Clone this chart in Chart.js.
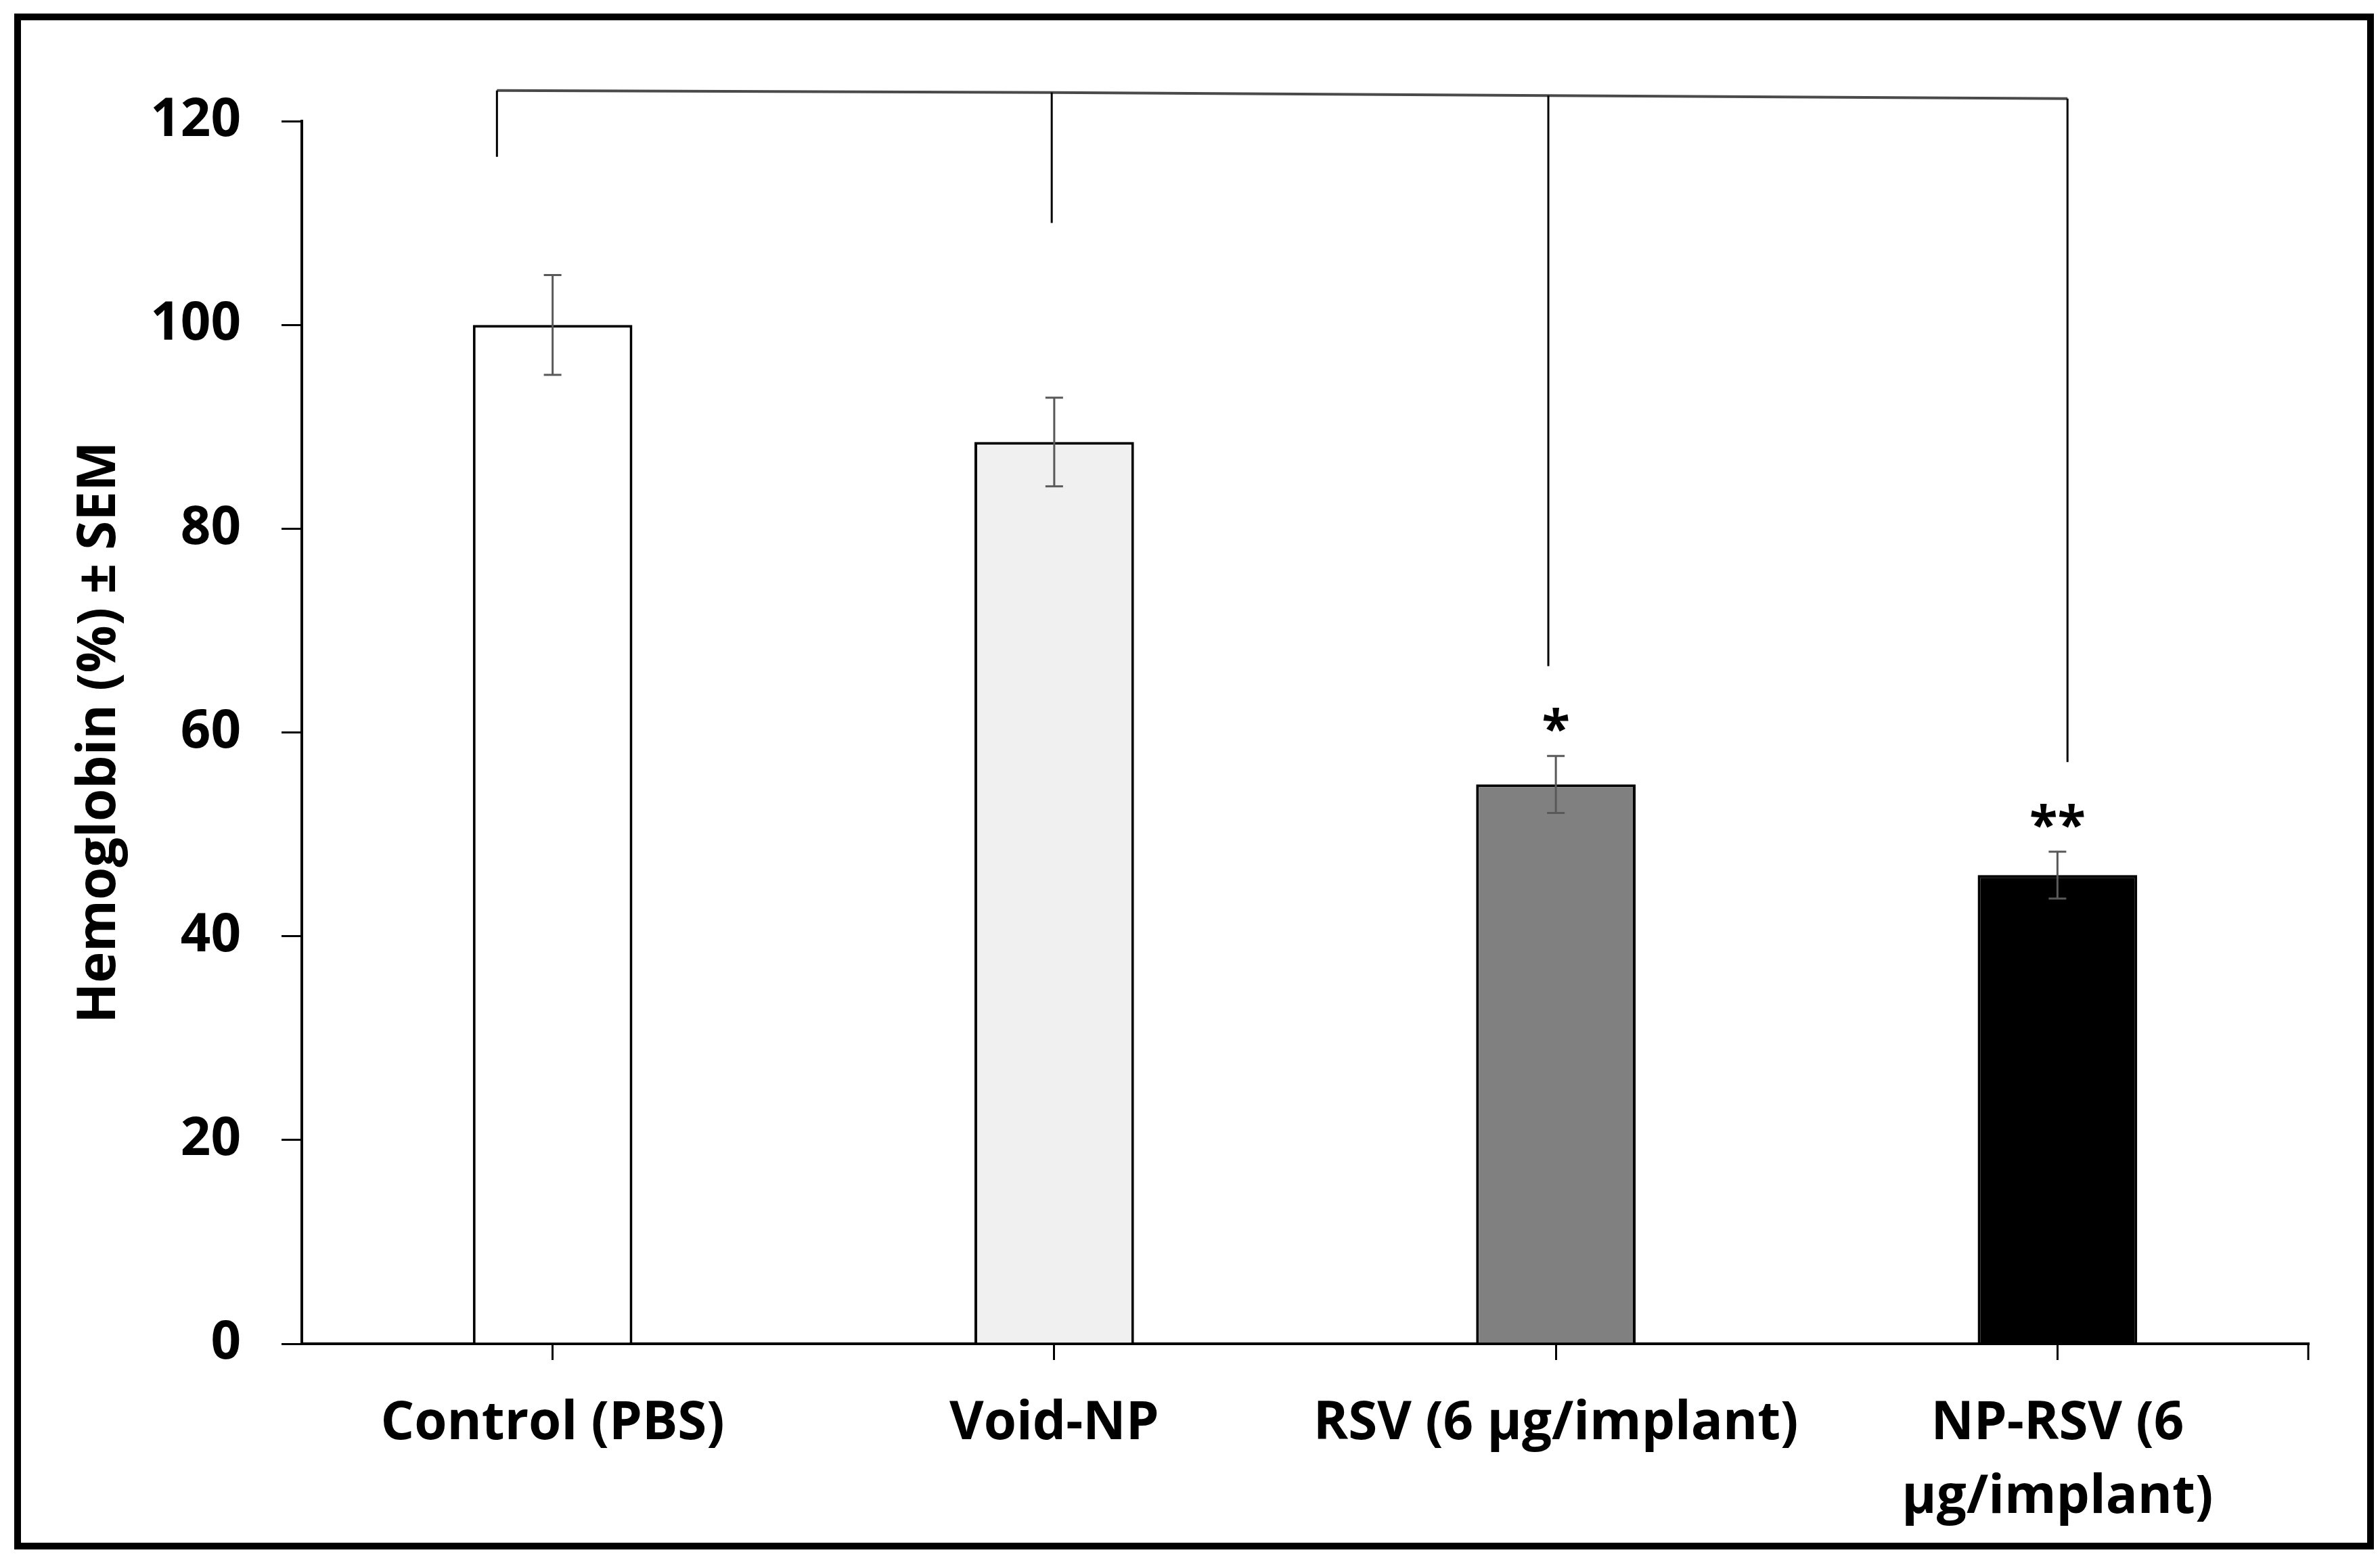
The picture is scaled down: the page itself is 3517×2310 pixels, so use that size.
<!DOCTYPE html>
<html lang="en">
<head>
<meta charset="UTF-8">
<title>Hemoglobin (%) ± SEM</title>
<script src="https://cdn.jsdelivr.net/npm/chart.js"></script>
<style>
    body {
        margin: 0;
        background: #fff;
    }
    .chart-container {
        position: relative;
        width: 3517px;
        height: 2310px;
    }
</style>
</head>
<body>
<div class="chart-container">
    <canvas id="hbChart"></canvas>
</div>
<script>
const categories = ['Control (PBS)', 'Void-NP', 'RSV (6 µg/implant)', ['NP-RSV (6', 'µg/implant)']];
const hemoglobin = [100, 88.5, 54.9, 46.0];
const sem = [4.9, 4.35, 2.8, 2.3];
const barColors = ['#ffffff', '#f0f0f0', '#808080', '#000000'];
const stars = ['', '', '*', '**'];
const yMin = 0, yMax = 120, yStep = 20;
// significance bracket: x position (category index), top and foot of each drop
const bracketX = [-0.111, 0.995, 1.985, 3.02];
const bracketTop = [123.0, 122.8, 122.5, 122.2];
const bracketFoot = [116.5, 110.0, 66.5, 57.1];

Chart.defaults.font.family = "'Open Sans', sans-serif";
Chart.defaults.color = '#000';

const extras = {
    id: 'extras',
    afterDatasetsDraw(chart) {
        const ctx = chart.ctx;
        const x = chart.scales.x, y = chart.scales.y;
        const bars = chart.getDatasetMeta(0).data;
        ctx.save();

        // error bars
        ctx.strokeStyle = '#595959';
        ctx.lineWidth = 3;
        bars.forEach((bar, i) => {
            const hi = y.getPixelForValue(hemoglobin[i] + sem[i]);
            const lo = y.getPixelForValue(hemoglobin[i] - sem[i]);
            ctx.beginPath();
            ctx.moveTo(bar.x, hi); ctx.lineTo(bar.x, lo);
            ctx.moveTo(bar.x - 13, hi); ctx.lineTo(bar.x + 13, hi);
            ctx.moveTo(bar.x - 13, lo); ctx.lineTo(bar.x + 13, lo);
            ctx.stroke();
        });

        // stars
        ctx.fillStyle = '#000';
        ctx.font = "bold 76px 'Open Sans', sans-serif";
        ctx.textAlign = 'center';
        ctx.textBaseline = 'alphabetic';
        bars.forEach((bar, i) => {
            if (!stars[i]) return;
            ctx.fillText(stars[i], bar.x, y.getPixelForValue(hemoglobin[i] + sem[i]) - 14);
        });

        // bracket
        ctx.strokeStyle = '#4a4a4a';
        ctx.lineWidth = 4;
        ctx.beginPath();
        bracketX.forEach((bx, i) => {
            const px = x.getPixelForValue(bx), py = y.getPixelForValue(bracketTop[i]);
            if (i === 0) ctx.moveTo(px, py); else ctx.lineTo(px, py);
        });
        ctx.stroke();
        ctx.strokeStyle = '#000';
        ctx.lineWidth = 3;
        ctx.beginPath();
        bracketX.forEach((bx, i) => {
            const px = x.getPixelForValue(bx);
            ctx.moveTo(px, y.getPixelForValue(bracketTop[i]));
            ctx.lineTo(px, y.getPixelForValue(bracketFoot[i]));
        });
        ctx.stroke();

        // end tick on the x axis
        const area = chart.chartArea;
        ctx.lineWidth = 3;
        ctx.beginPath();
        ctx.moveTo(area.right, area.bottom);
        ctx.lineTo(area.right, area.bottom + 24);
        ctx.stroke();
        ctx.restore();
    },
    afterDraw(chart) {
        const ctx = chart.ctx;
        ctx.save();
        ctx.strokeStyle = '#000';
        ctx.lineWidth = 10;
        ctx.strokeRect(26, 25, 3477, 2260);
        ctx.restore();
    }
};

const ctx = document.getElementById('hbChart').getContext('2d');
new Chart(ctx, {
    type: 'bar',
    data: {
        labels: categories,
        datasets: [{
            data: hemoglobin,
            backgroundColor: barColors,
            borderColor: '#000',
            borderWidth: 4,
            barPercentage: 0.318,
            categoryPercentage: 1
        }]
    },
    options: {
        responsive: true,
        maintainAspectRatio: false,
        devicePixelRatio: 1,
        animation: false,
        layout: {
            padding: { top: 179, right: 106, bottom: 0, left: 0 }
        },
        plugins: {
            legend: { display: false },
            tooltip: { enabled: false }
        },
        scales: {
            x: {
                offset: true,
                afterFit(scale) { scale.height = 324; },
                grid: {
                    offset: false,
                    drawOnChartArea: false,
                    drawTicks: true,
                    tickLength: 24,
                    color: '#000',
                    lineWidth: 3
                },
                border: { display: true, color: '#000', width: 4 },
                ticks: {
                    padding: 40,
                    maxRotation: 0,
                    autoSkip: false,
                    color: '#000',
                    font: { size: 78, weight: 'bold', lineHeight: 1.4 }
                }
            },
            y: {
                min: yMin,
                max: yMax,
                afterFit(scale) { scale.width = 446; },
                grid: {
                    drawOnChartArea: false,
                    drawTicks: true,
                    tickLength: 30,
                    color: '#000',
                    lineWidth: 3
                },
                border: { display: true, color: '#000', width: 4 },
                ticks: {
                    stepSize: yStep,
                    padding: 60,
                    color: '#000',
                    font: { size: 78, weight: 'bold' }
                },
                title: {
                    display: true,
                    text: 'Hemoglobin (%) ± SEM',
                    color: '#000',
                    padding: { top: 101, bottom: 0 },
                    font: { size: 78, weight: 'bold' }
                }
            }
        }
    },
    plugins: [extras]
});
</script>
</body>
</html>
